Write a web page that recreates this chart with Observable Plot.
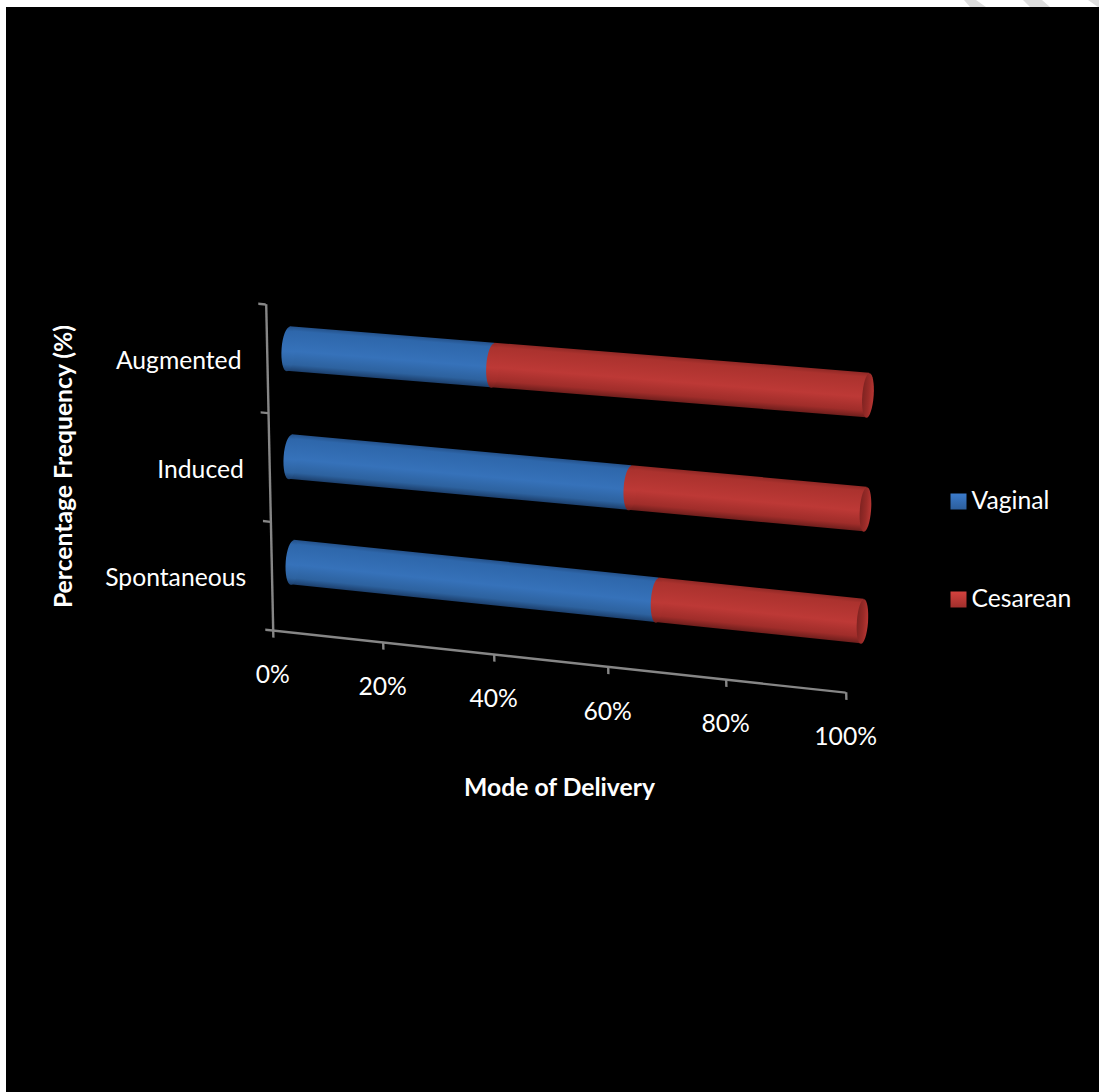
<!DOCTYPE html>
<html>
<head>
<meta charset="utf-8">
<script src="https://cdn.jsdelivr.net/npm/d3@7"></script>
<script src="https://cdn.jsdelivr.net/npm/@observablehq/plot@0.6"></script>
<style>
  html, body { margin: 0; padding: 0; background: #fff; }
  svg { display: block; }
</style>
</head>
<body>
<script>
// Share of each delivery mode per type of labour, listed from the bottom row up.
const categories = ["Spontaneous", "Induced", "Augmented"];
const modes = ["Vaginal", "Cesarean"];
const vaginal = [65.4, 60.6, 36.6];
const cesarean = [34.6, 39.4, 63.4];
const percentTicks = [0, 20, 40, 60, 80, 100];
const rowTicks = [0, 1, 2, 3];

const rows = categories.map((category, i) => ({
  category,
  position: i + 0.5,
  vaginal: vaginal[i],
  cesarean: cesarean[i]
}));

const FONT = "Lato, Carlito, Calibri, sans-serif";
const AXIS_GREY = "#868686";
const BAR_HALF = 0.205;

// The plane is drawn flat by the scales, then tilted as a whole by an affine frame.
const planeWidth = 573;
const floorFrame = {a: 1, b: 0.1085, c: 0.02147, d: 1, e: 265.7, f: 304};

// Each cylinder sits on its own slightly converging centre line.
const rowLines = {
  Augmented: [[288, 348.5], [867.5, 395]],
  Induced: [[290, 456.5], [865, 509]],
  Spontaneous: [[292, 562], [862, 621]]
};

function rowFrame(row, scales) {
  const [[x0, y0], [x1, y1]] = rowLines[row.category];
  const v = scales.y(row.position);
  const c = -0.075;
  return {a: (x1 - x0) / planeWidth, b: (y1 - y0) / planeWidth, c, d: 1, e: x0 - c * v, f: y0 - v};
}

const matrixOf = ({a, b, c, d, e, f}) => `matrix(${a} ${b} ${c} ${d} ${e} ${f})`;

function wrap(node, frame) {
  const outer = document.createElementNS("http://www.w3.org/2000/svg", "g");
  outer.setAttribute("transform", matrixOf(frame));
  outer.appendChild(node);
  return outer;
}

// Render hook: place a mark's whole group inside a frame.
const inFrame = (getFrame) => (index, scales, values, dimensions, context, next) =>
  wrap(next(index, scales, values, dimensions, context), getFrame(scales));

// Render hook for labels: the anchor follows the frame, the glyphs stay upright.
const uprightInFrame = (frame) => (index, scales, values, dimensions, context, next) => {
  const node = next(index, scales, values, dimensions, context);
  const det = frame.a * frame.d - frame.b * frame.c;
  const inverse = matrixOf({a: frame.d / det, b: -frame.b / det, c: -frame.c / det, d: frame.a / det, e: 0, f: 0});
  node.querySelectorAll("text").forEach((t) => {
    t.setAttribute("transform", `${t.getAttribute("transform") || ""} ${inverse}`);
  });
  return wrap(node, frame);
};

const K = 0.5523;
const ellipse = (rx, ry) => ({
  draw(c) {
    c.moveTo(rx, 0);
    c.bezierCurveTo(rx, K * ry, K * rx, ry, 0, ry);
    c.bezierCurveTo(-K * rx, ry, -rx, K * ry, -rx, 0);
    c.bezierCurveTo(-rx, -K * ry, -K * rx, -ry, 0, -ry);
    c.bezierCurveTo(K * rx, -ry, rx, -K * ry, rx, 0);
    c.closePath();
  }
});
const square = (s) => ({draw(c) { c.rect(-s, -s, 2 * s, 2 * s); }});

const stops = (list) => list.map(([o, col]) => `<stop offset="${o}" stop-color="${col}"/>`).join("");

function backdrop() {
  const g = document.createElementNS("http://www.w3.org/2000/svg", "g");
  g.innerHTML = `
    <defs>
      <linearGradient id="tubeBlue" x1="0" y1="0" x2="0" y2="1">${stops([[0, "#24518a"], [0.1, "#2e67ab"], [0.55, "#3672ba"], [0.85, "#2d629f"], [1, "#1c3f6c"]])}</linearGradient>
      <linearGradient id="tubeRed" x1="0" y1="0" x2="0" y2="1">${stops([[0, "#8f2825"], [0.1, "#ab322e"], [0.55, "#bd3936"], [0.85, "#a02d2a"], [1, "#6e1e1c"]])}</linearGradient>
      <linearGradient id="capRed" x1="0" y1="0" x2="1" y2="0">${stops([[0, "#7f2321"], [0.55, "#9a2b28"], [1, "#b83633"]])}</linearGradient>
      <linearGradient id="keyBlue" x1="0" y1="0" x2="0" y2="1">${stops([[0, "#3b7bcb"], [1, "#2c5e9c"]])}</linearGradient>
      <linearGradient id="keyRed" x1="0" y1="0" x2="0" y2="1">${stops([[0, "#d4423e"], [1, "#a02f2c"]])}</linearGradient>
    </defs>
    <rect x="6" y="7" width="1093" height="1085" fill="#000"/>
    <g fill="#dedede">
      <polygon points="964,0 976,0 986,7 970,7"/>
      <polygon points="1023,0 1042,0 1050,7 1030,7"/>
      <polygon points="1088,0 1099,0 1099,7 1098,7"/>
    </g>`;
  return g;
}

function rowMarks(row) {
  const frame = inFrame((scales) => rowFrame(row, scales));
  const y1 = row.position - BAR_HALF;
  const y2 = row.position + BAR_HALF;
  const end = row.vaginal + row.cesarean;
  return [
    Plot.rect([row], {x1: 0, x2: row.vaginal, y1, y2, fill: "url(#tubeBlue)", render: frame}),
    Plot.dot([row], {x: () => 0, y: (d) => d.position, r: 1, symbol: ellipse(6.8, 22.3), fill: "url(#tubeBlue)", render: frame}),
    Plot.rect([row], {x1: row.vaginal, x2: end, y1, y2, fill: "url(#tubeRed)", render: frame}),
    Plot.dot([row], {x: (d) => d.vaginal, y: (d) => d.position, r: 1, symbol: ellipse(6.5, 22.3), fill: "url(#tubeRed)", render: frame}),
    Plot.dot([row], {x: () => end, y: (d) => d.position, r: 1, symbol: ellipse(5.6, 22.3), fill: "url(#capRed)", render: frame})
  ];
}

const floor = inFrame(() => floorFrame);
const label = {fill: "#fff", fontFamily: FONT, fontSize: 24.7};
const anchored = {x: null, y: null, text: (d) => d, frameAnchor: "top-left", lineAnchor: "middle"};

const chart = Plot.plot({
  width: 1099,
  height: 1092,
  margin: 0,
  style: {background: "#fff", overflow: "visible"},
  x: {type: "linear", domain: percentTicks, range: [0, 110, 221, 335, 453, planeWidth], axis: null},
  y: {type: "linear", domain: [0, 3], range: [326, 0], axis: null},
  marks: [
    backdrop,

    // Tilted axes and their ticks
    Plot.ruleY([0], {x1: 0, x2: 100, stroke: AXIS_GREY, strokeWidth: 2.4, render: floor}),
    Plot.ruleX([0], {y1: 0, y2: 3, stroke: AXIS_GREY, strokeWidth: 2.4, render: floor}),
    Plot.ruleX(percentTicks, {y1: 0, y2: -0.07, stroke: AXIS_GREY, strokeWidth: 2.4, render: floor}),
    Plot.ruleY(rowTicks, {x1: -1.35, x2: 0, stroke: AXIS_GREY, strokeWidth: 2.4, render: floor}),

    // Cylinders
    ...rows.flatMap(rowMarks),

    // Tick labels stay horizontal while following the tilted axes
    Plot.text(percentTicks, {
      x: (d) => d, y: () => 0, text: (d) => `${d}%`, dx: -1.5, dy: 45, textAnchor: "middle",
      ...label, render: uprightInFrame(floorFrame)
    }),
    Plot.text(rows, {
      x: () => 0, y: (d) => d.position, text: "category", dx: -26, dy: 5, textAnchor: "end",
      ...label, render: uprightInFrame(floorFrame)
    }),

    // Axis titles
    Plot.text(["Percentage Frequency (%)"], {
      ...anchored, dx: 64, dy: 466, rotate: -90, textAnchor: "middle",
      ...label, fontWeight: "bold"
    }),
    Plot.text(["Mode of Delivery"], {
      ...anchored, dx: 559, dy: 788, textAnchor: "middle",
      ...label, fontWeight: "bold"
    }),

    // Key
    Plot.dot(["Vaginal"], {x: null, y: null, frameAnchor: "top-left", dx: 958, dy: 501, r: 1, symbol: square(8), fill: "url(#keyBlue)"}),
    Plot.dot(["Cesarean"], {x: null, y: null, frameAnchor: "top-left", dx: 958, dy: 599, r: 1, symbol: square(8), fill: "url(#keyRed)"}),
    Plot.text([modes[0]], {...anchored, dx: 971, dy: 501, textAnchor: "start", ...label}),
    Plot.text([modes[1]], {...anchored, dx: 971, dy: 599, textAnchor: "start", ...label})
  ]
});

document.body.appendChild(chart);
</script>
</body>
</html>
